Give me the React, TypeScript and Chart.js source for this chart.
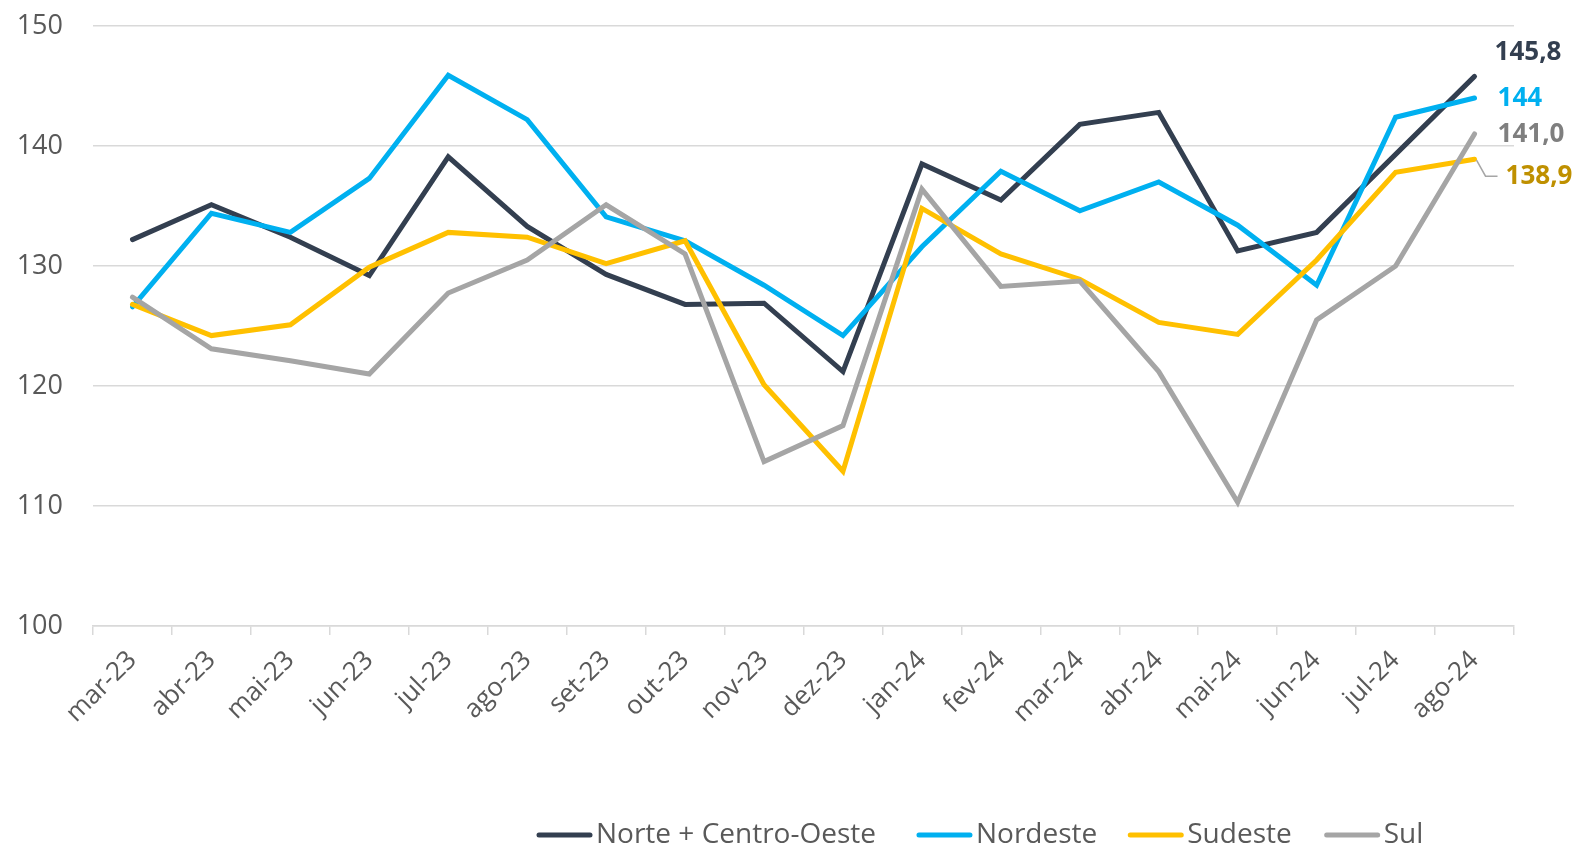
import React, { useEffect, useRef } from "react";
import { Chart, registerables } from "chart.js";

Chart.register(...registerables);

const categories = [
  "mar-23", "abr-23", "mai-23", "jun-23", "jul-23", "ago-23", "set-23", "out-23", "nov-23",
  "dez-23", "jan-24", "fev-24", "mar-24", "abr-24", "mai-24", "jun-24", "jul-24", "ago-24",
];

const norteCentroOeste = [132.2, 135.1, 132.4, 129.2, 139.1, 133.3, 129.3, 126.8, 126.9, 121.2, 138.5, 135.5, 141.8, 142.8, 131.25, 132.8, 139.3, 145.8];
const nordeste = [126.6, 134.4, 132.8, 137.3, 145.9, 142.2, 134.1, 132.1, 128.4, 124.2, 131.6, 137.9, 134.6, 137.0, 133.4, 128.4, 142.4, 144.0];
const sudeste = [126.8, 124.2, 125.1, 129.9, 132.8, 132.4, 130.2, 132.1, 120.1, 112.9, 134.8, 131.0, 128.9, 125.3, 124.3, 130.5, 137.8, 138.9];
const sul = [127.4, 123.1, 122.1, 121.0, 127.75, 130.5, 135.1, 131.0, 113.7, 116.7, 136.4, 128.3, 128.75, 121.2, 110.3, 125.5, 130.0, 141.0];

const seriesNames = ["Norte + Centro-Oeste", "Nordeste", "Sudeste", "Sul"];
const endLabels = ["145,8", "144", "138,9", "141,0"];

const yMin = 100;
const yMax = 150;
const yStep = 10;

const FONT = "'Open Sans', Lato, sans-serif";
const TEXT_COLOR = "#595959";
const lineColors = ["#333F50", "#00B0F0", "#FFC000", "#A5A5A5"];
const labelColors = ["#333F50", "#00B0F0", "#BF9000", "#7F7F7F"];
const labelOffsets: [number, number][] = [
  [20, -24],
  [23, 1],
  [31, 17],
  [23, 1],
];
const legendGaps = [43, 33, 35, 0];

const endLabelPlugin = {
  id: "endLabels",
  afterDatasetsDraw(chart: any) {
    const ctx = chart.ctx;
    ctx.save();
    ctx.font = `bold 26px ${FONT}`;
    ctx.textBaseline = "middle";
    ctx.textAlign = "left";
    chart.data.datasets.forEach((ds: any, i: number) => {
      const meta = chart.getDatasetMeta(i);
      const pt = meta.data[meta.data.length - 1];
      if (!pt) return;
      const [dx, dy] = labelOffsets[i];
      const x = pt.x + dx;
      const y = pt.y + dy;
      if (i === 2) {
        ctx.strokeStyle = "#A6A6A6";
        ctx.lineWidth = 1.5;
        ctx.beginPath();
        ctx.moveTo(pt.x + 2, pt.y + 1);
        ctx.lineTo(pt.x + 11, y);
        ctx.lineTo(pt.x + 23, y);
        ctx.stroke();
      }
      ctx.fillStyle = labelColors[i];
      ctx.fillText(endLabels[i], x, y);
    });
    ctx.restore();
  },
};

const legendPlugin = {
  id: "customLegend",
  afterDraw(chart: any) {
    const ctx = chart.ctx;
    ctx.save();
    ctx.font = `28px ${FONT}`;
    ctx.textBaseline = "middle";
    ctx.textAlign = "left";
    let x = 539;
    const y = 835;
    seriesNames.forEach((name, i) => {
      ctx.strokeStyle = lineColors[i];
      ctx.lineWidth = 5;
      ctx.lineCap = "round";
      ctx.beginPath();
      ctx.moveTo(x, y);
      ctx.lineTo(x + 51, y);
      ctx.stroke();
      ctx.fillStyle = TEXT_COLOR;
      const tx = x + 57;
      ctx.fillText(name, tx, y);
      x = tx + ctx.measureText(name).width + legendGaps[i];
    });
    ctx.restore();
  },
};

export default function App() {
  const canvasRef = useRef<HTMLCanvasElement | null>(null);

  useEffect(() => {
    document.body.style.margin = "0";
    const canvas = canvasRef.current;
    if (!canvas) return;
    const data = [norteCentroOeste, nordeste, sudeste, sul];
    const chart = new Chart(canvas, {
      type: "line",
      data: {
        labels: categories,
        datasets: data.map((d, i) => ({
          label: seriesNames[i],
          data: d,
          borderColor: lineColors[i],
          backgroundColor: lineColors[i],
          borderWidth: 5,
          pointRadius: 0,
          tension: 0,
          fill: false,
          order: 4 - i,
          borderCapStyle: "round" as const,
          borderJoinStyle: "miter" as const,
        })),
      },
      options: {
        animation: false,
        responsive: false,
        maintainAspectRatio: false,
        layout: { padding: { top: 26, right: 67, left: 0, bottom: 0 } },
        plugins: {
          legend: { display: false },
          tooltip: { enabled: false },
        },
        scales: {
          x: {
            offset: true,
            grid: {
              offset: true,
              drawOnChartArea: false,
              drawTicks: true,
              tickLength: 9,
              color: "#D9D9D9",
              lineWidth: 1.5,
            },
            border: { display: true, color: "#D9D9D9", width: 1.5 },
            ticks: {
              color: TEXT_COLOR,
              font: { family: FONT, size: 26 },
              minRotation: 45,
              maxRotation: 45,
              padding: 10,
              autoSkip: false,
            },
            afterFit(scale: any) {
              scale.height = 220;
              scale.paddingLeft = 0;
              scale.paddingRight = 0;
            },
          },
          y: {
            min: yMin,
            max: yMax,
            grid: {
              color: "#D9D9D9",
              lineWidth: 1.5,
              drawTicks: false,
            },
            border: { display: false },
            ticks: {
              stepSize: yStep,
              color: TEXT_COLOR,
              font: { family: FONT, size: 27 },
              padding: 30,
            },
            afterFit(scale: any) {
              scale.width = 93;
              scale.paddingTop = 0;
              scale.paddingBottom = 0;
            },
          },
        },
      },
      plugins: [endLabelPlugin, legendPlugin],
    });
    return () => chart.destroy();
  }, []);

  return (
    <div style={{ width: 1581, height: 846 }}>
      <canvas ref={canvasRef} width={1581} height={846} style={{ display: "block" }} />
    </div>
  );
}
